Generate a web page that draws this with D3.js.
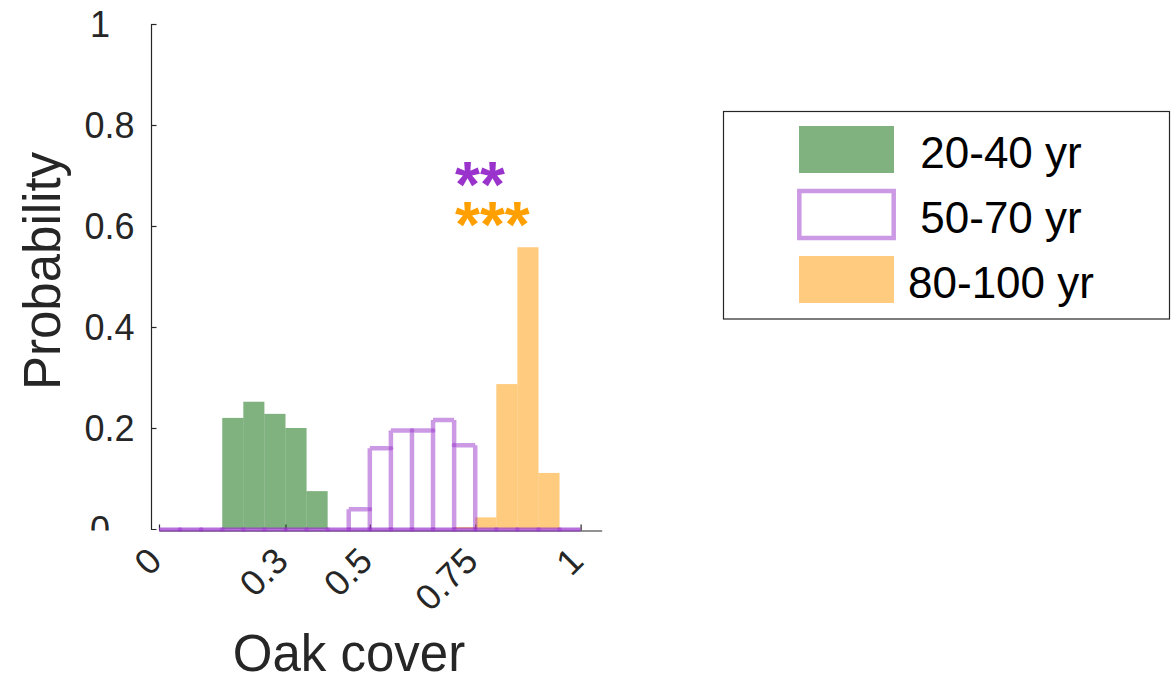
<!DOCTYPE html>
<html>
<head>
<meta charset="utf-8">
<script src="https://cdn.jsdelivr.net/npm/d3@7"></script>
<style>
  html, body { margin: 0; padding: 0; background: #fff; }
  svg { display: block; font-family: "Liberation Sans", Arial, Helvetica, sans-serif; }
</style>
</head>
<body>
<svg id="chart" width="1171" height="682"></svg>
<script>
// Histogram bins of oak cover (width 0.05, from 0 to 1)
const binStarts = [0, 0.05, 0.1, 0.15, 0.2, 0.25, 0.3, 0.35, 0.4, 0.45,
                   0.5, 0.55, 0.6, 0.65, 0.7, 0.75, 0.8, 0.85, 0.9, 0.95];
const binWidth = 0.05;

// Probability per bin for each stand age class
const age20to40  = [0, 0, 0, 0.22, 0.252, 0.228, 0.2, 0.075, 0, 0,
                    0, 0, 0, 0, 0, 0, 0, 0, 0, 0];
const age50to70  = [0, 0, 0, 0, 0, 0, 0, 0, 0, 0.039,
                    0.16, 0.195, 0.195, 0.216, 0.166, 0, 0, 0, 0, 0];
const age80to100 = [0, 0, 0, 0, 0, 0, 0, 0, 0, 0,
                    0, 0, 0, 0, 0.004, 0.023, 0.287, 0.558, 0.111, 0];

const seriesNames = ["20-40 yr", "50-70 yr", "80-100 yr"];
const xTicks = [0, 0.3, 0.5, 0.75, 1];
const xTickLabels = ["0", "0.3", "0.5", "0.75", "1"];
const yTicks = [0, 0.2, 0.4, 0.6, 0.8, 1];
const yTickLabels = ["0", "0.2", "0.4", "0.6", "0.8", "1"];
const signifLabels = ["**", "***"];

const green  = "rgb(0,102,0)";
const purple = "rgb(153,51,204)";
const orange = "rgb(255,153,0)";
const axisColor = "#262626";

const svg = d3.select("#chart");

const x = d3.scaleLinear().domain([0, 1.05]).range([159, 601.7]);
const y = d3.scaleLinear().domain([0, 1]).range([529, 24]);

// ---- x axis (drawn first so the translucent bars sit over its line)
const xAxisY = 530.5;
const gx = svg.append("g")
  .attr("transform", `translate(0,${xAxisY})`)
  .call(d3.axisBottom(x).tickValues(xTicks)
        .tickFormat((d, i) => xTickLabels[i])
        .tickSizeInner(-6).tickSizeOuter(0));
gx.select(".domain").attr("stroke", axisColor).attr("stroke-width", 1.2);
gx.selectAll(".tick line").attr("stroke", axisColor).attr("stroke-width", 1.2);
gx.selectAll(".tick text")
  .attr("fill", axisColor)
  .attr("font-size", 36)
  .attr("text-anchor", "end")
  .attr("x", 0).attr("y", 0).attr("dy", "0.36em")
  .attr("transform", "translate(-5,23.5) rotate(-45)");

// ---- y axis, ticks pointing inward
svg.append("clipPath").attr("id", "yLabelClip")
  .append("rect").attr("x", -151).attr("y", 0).attr("width", 160).attr("height", 530.5);
const gy = svg.append("g")
  .attr("transform", "translate(151,0)")
  .attr("clip-path", "url(#yLabelClip)");   // the lowest label is cut off along the x axis
gy.call(d3.axisLeft(y).tickValues(yTicks)
        .tickFormat((d, i) => yTickLabels[i])
        .tickSizeInner(-5.5).tickSizeOuter(0).tickPadding(16.5));
gy.select(".domain").attr("stroke", axisColor).attr("stroke-width", 1.2);
gy.selectAll(".tick line").attr("stroke", axisColor).attr("stroke-width", 1.2);
gy.selectAll(".tick text")
  .attr("fill", axisColor)
  .attr("font-size", 36)
  .attr("dy", "0.36em")
  // single-character labels sit further left
  .attr("x", (d, i) => yTickLabels[i].length === 1 ? -41 : -16.5);

// ---- filled histograms
function filledBars(values, color) {
  svg.append("g")
    .selectAll("rect")
    .data(binStarts.map((s, i) => ({ s, v: values[i] })).filter(d => d.v > 0))
    .join("rect")
    .attr("x", d => x(d.s))
    .attr("width", d => x(d.s + binWidth) - x(d.s))
    .attr("y", d => y(d.v))
    .attr("height", d => y(0) - y(d.v))
    .attr("fill", color)
    .attr("fill-opacity", 0.5);
}
filledBars(age20to40, green);
filledBars(age80to100, orange);

// ---- outlined histogram (edges only)
const segs = [];
binStarts.forEach((s, i) => {
  const v = age50to70[i];
  if (v > 0) segs.push([[x(s), y(v)], [x(s + binWidth), y(v)]]);
});
for (let i = 0; i <= binStarts.length; i++) {
  const e = i < binStarts.length ? binStarts[i] : binStarts[i - 1] + binWidth;
  const left = i > 0 ? age50to70[i - 1] : 0;
  const right = i < binStarts.length ? age50to70[i] : 0;
  const top = Math.max(left, right);
  if (top > 0) segs.push([[x(e), y(0)], [x(e), y(top)]]);
}
const lastEdge = binStarts[binStarts.length - 1] + binWidth;
svg.append("path")
  .attr("d", segs.map(s => `M${s[0][0]},${s[0][1]}L${s[1][0]},${s[1][1]}`).join(""))
  .attr("fill", "none")
  .attr("stroke", purple)
  .attr("stroke-opacity", 0.5)
  .attr("stroke-width", 4.5);
// baseline of the outlined bars
svg.append("line")
  .attr("x1", x(0)).attr("x2", x(lastEdge))
  .attr("y1", y(0) + 0.5).attr("y2", y(0) + 0.5)
  .attr("stroke", purple).attr("stroke-opacity", 0.7)
  .attr("stroke-width", 4);
// overlapping segment ends at the bin junctions
const joints = [];
for (let i = 1; i < binStarts.length; i++) {
  const e = binStarts[i];
  joints.push([x(e), y(0) + 0.5]);
  const m = Math.min(age50to70[i - 1], age50to70[i]);
  if (m > 0) joints.push([x(e), y(m)]);
}
svg.append("g").selectAll("circle")
  .data(joints).join("circle")
  .attr("cx", d => d[0]).attr("cy", d => d[1])
  .attr("r", 2.3)
  .attr("fill", purple).attr("fill-opacity", 0.5);

// ---- significance markers (one text, two rows)
const marks = svg.append("text")
  .attr("font-size", 64).attr("font-weight", "bold");
marks.append("tspan")
  .attr("x", 455).attr("y", 207)
  .attr("fill", "rgb(153,51,204)")
  .text(signifLabels[0]);
marks.append("tspan")
  .attr("x", 455).attr("y", 247)
  .attr("fill", "rgb(255,160,0)")
  .text(signifLabels[1]);

// ---- axis titles
svg.append("text")
  .attr("x", 349).attr("y", 671)
  .attr("text-anchor", "middle")
  .attr("font-size", 51).attr("fill", axisColor)
  .text("Oak cover");
svg.append("text")
  .attr("transform", "translate(60,271) rotate(-90)")
  .attr("text-anchor", "middle")
  .attr("font-size", 51).attr("fill", axisColor)
  .text("Probability");

// ---- legend
const legend = svg.append("g");
legend.append("rect")
  .attr("x", 723.5).attr("y", 111.5).attr("width", 446).attr("height", 207.5)
  .attr("fill", "#fff").attr("stroke", axisColor).attr("stroke-width", 1.2);
const legendRows = [
  { name: seriesNames[0], fill: green, outline: false },
  { name: seriesNames[1], fill: purple, outline: true },
  { name: seriesNames[2], fill: orange, outline: false }
];
legendRows.forEach((r, i) => {
  const cy = 149.5 + i * 65;
  if (r.outline) {
    legend.append("rect")
      .attr("x", 799.3).attr("y", cy - 23.5).attr("width", 94.4).attr("height", 47)
      .attr("fill", "none").attr("stroke", r.fill)
      .attr("stroke-opacity", 0.5).attr("stroke-width", 4.5);
  } else {
    legend.append("rect")
      .attr("x", 799).attr("y", cy - 23.5).attr("width", 95).attr("height", 47)
      .attr("fill", r.fill).attr("fill-opacity", 0.5);
  }
  legend.append("text")
    .attr("x", 1001).attr("y", cy + 18.5)
    .attr("text-anchor", "middle")
    .attr("font-size", 44).attr("fill", "#000")
    .text(r.name);
});
</script>
</body>
</html>
